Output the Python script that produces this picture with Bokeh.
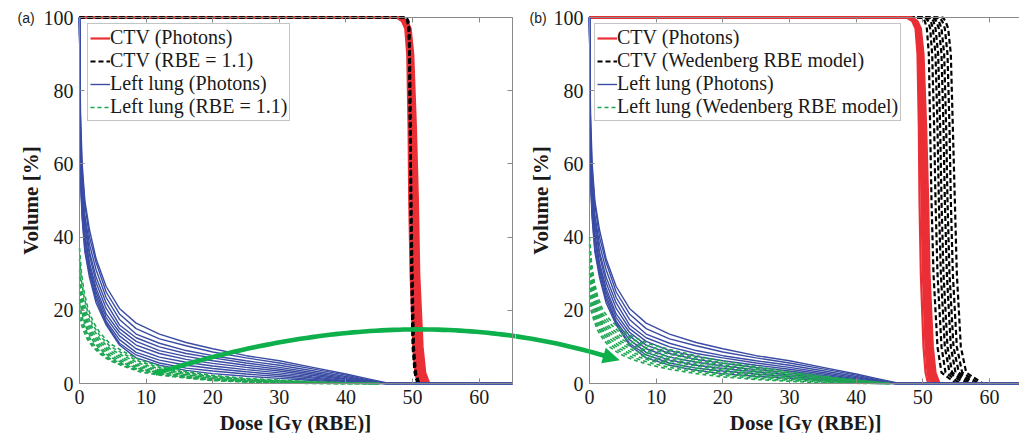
import numpy as np
from bokeh.plotting import figure
from bokeh.layouts import row
from bokeh.models import (LinearAxis, FixedTicker, Legend, LegendItem, Range1d)
from bokeh.core.properties import value
from bokeh.embed import file_html
from bokeh.resources import INLINE

# ---------------- data ----------------
# Left lung, photons: volume [%] at dose grid [Gy]
lung_dose_photon = [0, 0.15, 0.4, 0.8, 1.5, 2.5, 4, 6, 8.5, 12, 16, 20, 25, 30, 35, 40, 43, 46]
lung_photons = [
    [100, 74, 60, 50, 42, 34, 26.5, 20.5, 16.5, 13.5, 11.2, 9.5, 7.6, 6.2, 4.4, 2.6, 1.4, 0.2],
    [100, 70, 58, 49, 40, 33, 25, 19, 15, 12.2, 10.3, 8.6, 7.0, 5.6, 4.0, 2.3, 1.1, 0.1],
    [100, 68, 55, 46, 38, 31, 23.5, 17.5, 13.5, 11, 9.0, 7.6, 6.2, 5.0, 3.5, 1.9, 0.9, 0],
    [100, 66, 54, 45, 36, 29, 22, 16, 12.5, 10, 8.2, 7.0, 5.6, 4.4, 3.0, 1.6, 0.7, 0],
    [100, 64, 52, 43, 35, 27.5, 20.5, 15, 11.5, 9.0, 7.4, 6.2, 5.0, 3.9, 2.6, 1.3, 0.5, 0],
    [100, 62, 50, 41, 33, 26, 19, 14, 10.5, 8.2, 6.6, 5.5, 4.4, 3.4, 2.2, 1.1, 0.4, 0],
    [100, 60, 48, 40, 32, 25, 18, 13, 9.5, 7.2, 5.8, 4.8, 3.8, 2.9, 1.8, 0.8, 0.3, 0],
    [100, 58, 47, 39, 31, 24, 17, 12, 8.5, 6.4, 5.0, 4.1, 3.2, 2.4, 1.5, 0.6, 0.2, 0],
    [100, 57, 46, 37, 30, 23, 16.5, 11, 7.8, 5.6, 4.2, 3.4, 2.6, 1.9, 1.1, 0.5, 0.1, 0],
    [100, 55, 45, 36, 29, 22, 16, 10.5, 7.0, 5.0, 3.6, 2.7, 2.0, 1.4, 0.8, 0.3, 0, 0],
]
# Left lung, protons: volume [%] at dose grid [Gy (RBE)]
lung_dose_proton = [0, 0.3, 0.7, 1.2, 2, 3, 4.5, 6.5, 9, 12, 16, 20, 25, 30, 35, 40, 45]
lung_rbe11 = [
    [37, 30, 25, 21, 17, 14, 11, 8.8, 6.5, 4.8, 3.3, 2.2, 1.4, 0.9, 0.5, 0.2, 0],
    [34, 28, 23.5, 19.8, 16, 13.2, 10.3, 8.2, 6.0, 4.4, 3.0, 2.0, 1.2, 0.8, 0.4, 0.15, 0],
    [31, 26, 22, 18.5, 15, 12.3, 9.6, 7.6, 5.5, 4.0, 2.7, 1.8, 1.1, 0.7, 0.35, 0.1, 0],
    [29, 24.5, 20.5, 17.3, 14, 11.5, 9.0, 7.0, 5.0, 3.7, 2.5, 1.6, 1.0, 0.6, 0.3, 0.1, 0],
    [27, 23, 19.3, 16.2, 13.2, 10.8, 8.4, 6.5, 4.6, 3.4, 2.3, 1.4, 0.8, 0.5, 0.2, 0.05, 0],
    [25, 21.5, 18, 15.2, 12.4, 10.1, 7.8, 6.0, 4.3, 3.1, 2.1, 1.3, 0.7, 0.4, 0.15, 0, 0],
    [23, 20, 17, 14.3, 11.7, 9.5, 7.3, 5.6, 4.0, 2.9, 1.9, 1.1, 0.6, 0.3, 0.1, 0, 0],
    [22, 19, 16, 13.5, 11, 8.9, 6.9, 5.3, 3.7, 2.7, 1.7, 1.0, 0.5, 0.25, 0.1, 0, 0],
    [20, 17.5, 15, 12.7, 10.4, 8.5, 6.6, 5.0, 3.5, 2.5, 1.6, 0.9, 0.45, 0.2, 0.05, 0, 0],
    [18, 16, 14, 12, 10, 8.2, 6.3, 4.8, 3.2, 2.3, 1.5, 0.8, 0.4, 0.2, 0, 0, 0],
]
lung_wedenberg = [
    [40, 33, 28, 24, 20, 17.5, 15, 12.8, 10.8, 9.3, 7.6, 6.1, 4.6, 3.2, 2.0, 1.0, 0],
    [38, 31.5, 26.5, 22.8, 19, 16.5, 14, 12, 10.1, 8.6, 7.0, 5.6, 4.2, 2.9, 1.8, 0.9, 0],
    [36, 30, 25.3, 21.7, 18, 15.5, 13.2, 11.2, 9.4, 8.0, 6.4, 5.1, 3.8, 2.6, 1.6, 0.8, 0],
    [34, 28.5, 24, 20.6, 17.1, 14.7, 12.4, 10.5, 8.7, 7.3, 5.9, 4.6, 3.4, 2.3, 1.4, 0.7, 0],
    [32, 27, 23, 19.6, 16.2, 13.9, 11.7, 9.8, 8.1, 6.7, 5.3, 4.1, 3.0, 2.0, 1.2, 0.6, 0],
    [30, 25.5, 21.8, 18.6, 15.4, 13.1, 11, 9.1, 7.5, 6.1, 4.8, 3.6, 2.6, 1.7, 1.0, 0.4, 0],
    [28, 24, 20.6, 17.6, 14.6, 12.3, 10.2, 8.4, 6.9, 5.5, 4.2, 3.1, 2.2, 1.4, 0.8, 0.3, 0],
    [26, 22.5, 19.4, 16.6, 13.8, 11.5, 9.5, 7.8, 6.3, 5.0, 3.7, 2.6, 1.8, 1.1, 0.6, 0.2, 0],
    [24, 21, 18.2, 15.6, 13, 10.8, 8.8, 7.1, 5.7, 4.4, 3.2, 2.2, 1.4, 0.8, 0.4, 0.1, 0],
    [22, 19.5, 17, 14.6, 12.2, 10, 8.1, 6.5, 5.1, 3.9, 2.7, 1.8, 1.1, 0.6, 0.2, 0.05, 0],
]
# CTV: dose [Gy (RBE)] at which each volume level [%] is reached
ctv_volume = [100, 99, 97, 90, 70, 50, 30, 10, 3, 0]
ctv_photons = [
    [47.6, 48.4, 48.9, 49.2, 49.4, 49.5, 49.7, 50.1, 50.4, 50.8],
    [47.8, 48.6, 49.1, 49.4, 49.6, 49.8, 50.0, 50.4, 50.7, 51.1],
    [47.9, 48.7, 49.2, 49.5, 49.8, 50.0, 50.2, 50.6, 50.9, 51.4],
    [48.0, 48.8, 49.3, 49.7, 49.9, 50.1, 50.4, 50.8, 51.1, 51.6],
    [48.1, 48.9, 49.4, 49.8, 50.1, 50.3, 50.5, 50.9, 51.3, 51.8],
    [48.2, 49.0, 49.5, 49.9, 50.2, 50.4, 50.7, 51.1, 51.5, 52.0],
    [48.3, 49.1, 49.6, 50.0, 50.3, 50.6, 50.9, 51.3, 51.7, 52.3],
    [48.4, 49.2, 49.7, 50.1, 50.5, 50.8, 51.0, 51.5, 51.9, 52.5],
]
ctv_rbe11 = [
    [48.9, 49.2, 49.4, 49.5, 49.6, 49.7, 49.8, 50.0, 50.3, 50.7],
    [49.0, 49.3, 49.4, 49.5, 49.6, 49.7, 49.9, 50.1, 50.4, 50.8],
    [49.0, 49.3, 49.5, 49.6, 49.7, 49.8, 49.9, 50.1, 50.4, 50.9],
    [49.1, 49.4, 49.5, 49.6, 49.7, 49.8, 50.0, 50.2, 50.5, 51.0],
]
ctv_wedenberg = [
    [50.0, 50.3, 50.6, 50.9, 51.1, 51.3, 51.6, 52.2, 52.8, 55.0],
    [50.4, 50.8, 51.1, 51.4, 51.7, 51.9, 52.2, 52.8, 53.4, 55.6],
    [50.8, 51.2, 51.5, 51.9, 52.2, 52.4, 52.7, 53.3, 54.0, 56.2],
    [51.2, 51.6, 51.9, 52.3, 52.6, 52.8, 53.1, 53.7, 54.4, 56.8],
    [51.6, 52.0, 52.4, 52.8, 53.1, 53.3, 53.6, 54.2, 54.9, 57.3],
    [52.0, 52.4, 52.8, 53.2, 53.5, 53.7, 54.0, 54.6, 55.4, 57.8],
    [52.5, 52.9, 53.3, 53.7, 54.0, 54.2, 54.5, 55.1, 55.9, 58.4],
    [53.0, 53.4, 53.8, 54.2, 54.5, 54.8, 55.1, 55.7, 56.5, 59.0],
]
x_ticks = [0, 10, 20, 30, 40, 50, 60]
y_ticks = [0, 20, 40, 60, 80, 100]
x_title = "Dose [Gy (RBE)]"
y_title = "Volume [%]"
legend_a = ["CTV (Photons)", "CTV (RBE = 1.1)", "Left lung (Photons)", "Left lung (RBE = 1.1)"]
legend_b = ["CTV (Photons)", "CTV (Wedenberg RBE model)", "Left lung (Photons)",
            "Left lung (Wedenberg RBE model)"]

# ---------------- styling ----------------
RED = "#ea2f36"
BLACK = "#000000"
BLUE = "#3a4ca3"
GREEN = "#1fa653"
ARROW = "#0db04b"
FRAME = "#8a8a8a"
SERIF = "Liberation Serif"
TXT = "#1a1a1a"

H = 433
TOP, BOTTOM = 17, 383
SY = (BOTTOM - TOP) / 100.0          # px per % volume
SX1 = 433 / 65.0                     # px per Gy, panel a
SX2 = 430 / 64.5                     # px per Gy, panel b


def ctv_xy(curves):
    xs = [[0] + list(c) for c in curves]
    ys = [[ctv_volume[0]] + list(ctv_volume) for c in curves]
    return xs, ys


def lung_xy(dose, curves, extend=False):
    xs, ys = [], []
    for c in curves:
        x, y = list(dose), list(c)
        if extend:
            x, y = x + [65], y + [0]
        xs.append(x)
        ys.append(y)
    return xs, ys


def tick_kw():
    return dict(axis_line_color=FRAME, major_tick_line_color=FRAME, major_tick_in=5,
                major_tick_out=0, minor_tick_line_color=None)


def blank_axis(ticks, **kw):
    return LinearAxis(ticker=FixedTicker(ticks=ticks),
                      major_label_overrides={t: "" for t in ticks},
                      major_label_text_font_size="1px", major_label_standoff=0,
                      **tick_kw(), **kw)


def make_panel(width, x0, x1, xmax, sx):
    # the frame covers the whole canvas; the axes box is drawn by fixed-location axes
    p = figure(width=width, height=H, x_range=Range1d(x0, x1),
               y_range=Range1d(-(H - BOTTOM) / SY, BOTTOM / SY),
               output_backend="svg", toolbar_location=None,
               x_axis_location=None, y_axis_location=None,
               min_border_left=0, min_border_right=0, min_border_top=0,
               min_border_bottom=0)
    p.outline_line_color = None
    p.xgrid.visible = False
    p.ygrid.visible = False
    xa = LinearAxis(fixed_location=0, bounds=(0, xmax), ticker=FixedTicker(ticks=x_ticks),
                    major_label_text_font=SERIF, major_label_text_font_size="20px",
                    major_label_text_color=TXT, major_label_standoff=6, **tick_kw())
    p.add_layout(xa, "below")
    ya = LinearAxis(fixed_location=0, bounds=(0, 100), ticker=FixedTicker(ticks=y_ticks),
                    major_label_text_font=SERIF, major_label_text_font_size="20px",
                    major_label_text_color=TXT, major_label_standoff=6, **tick_kw())
    p.add_layout(ya, "left")
    p.add_layout(blank_axis(x_ticks, fixed_location=100, bounds=(0, xmax)), "above")
    # axis titles (text)
    p.text(x=[(295 - 79) / SX1], y=[(BOTTOM - 422) / SY], text=[x_title],
           text_font=value(SERIF), text_font_size="21px", text_font_style="bold",
           text_align="center", text_baseline="middle", text_color=TXT)
    p.text(x=[-49 / sx], y=[50], text=[y_title], angle=np.pi / 2,
           text_font=value(SERIF), text_font_size="21px", text_font_style="bold",
           text_align="center", text_baseline="middle", text_color=TXT)
    return p


def make_legend(p, items, labels, x_px):
    lg = Legend(items=[LegendItem(label=l, renderers=[r]) for l, r in zip(labels, items)],
                location=(x_px, H - 121), padding=2, spacing=-3, margin=0,
                label_height=22, glyph_height=22, glyph_width=20, label_standoff=0,
                label_text_font=SERIF, label_text_font_size="20px",
                label_text_color=TXT,
                border_line_color=FRAME, border_line_width=1,
                background_fill_color="white", background_fill_alpha=1)
    p.add_layout(lg)


# green arrow annotation: quadratic Bezier in canvas pixels
def arrow_polygon():
    P0 = np.array([155.0, 373.0])
    P1 = np.array([400.0, 295.0])
    P2 = np.array([603.0, 355.0])
    t = np.linspace(0, 1, 80)
    pts = ((1 - t) ** 2)[:, None] * P0 + (2 * t * (1 - t))[:, None] * P1 + (t ** 2)[:, None] * P2
    der = (2 * (1 - t))[:, None] * (P1 - P0) + (2 * t)[:, None] * (P2 - P1)
    der = der / np.linalg.norm(der, axis=1)[:, None]
    nrm = np.stack([-der[:, 1], der[:, 0]], axis=1)
    hw = 2.3
    left = pts + hw * nrm
    right = pts - hw * nrm
    d, n = der[-1], nrm[-1]
    tip = P2 + 17 * d
    w1 = P2 + 8 * n
    w2 = P2 - 8 * n
    return np.vstack([left, w1[None], tip[None], w2[None], right[::-1]])


poly = arrow_polygon()

# ---------------- panel (a) ----------------
# canvas 0..515 px; data x = 0 at px 79
p1 = make_panel(515, -79 / SX1, (515 - 79) / SX1, 65, SX1)
p1.add_layout(blank_axis(y_ticks, fixed_location=65, bounds=(0, 100)), "right")

xs, ys = ctv_xy(ctv_photons)
r_red_a = p1.multi_line(xs, ys, line_color=RED, line_width=2.2)
xs, ys = ctv_xy(ctv_rbe11)
r_blk_a = p1.multi_line(xs, ys, line_color=BLACK, line_width=2.2, line_dash="5 3")
xs, ys = lung_xy(lung_dose_photon, lung_photons, extend=True)
r_blu_a = p1.multi_line(xs, ys, line_color=BLUE, line_width=1.4)
xs, ys = lung_xy(lung_dose_proton, lung_rbe11)
r_grn_a = p1.multi_line(xs, ys, line_color=GREEN, line_width=1.6, line_dash="4 3")
make_legend(p1, [r_red_a, r_blk_a, r_blu_a, r_grn_a], legend_a, 87)

p1.patch(list((poly[:, 0] - 79) / SX1), list((BOTTOM - poly[:, 1]) / SY),
         fill_color=ARROW, line_color=None)
p1.text(x=[(17 - 79) / SX1], y=[100], text=["(a)"], text_font=value("Liberation Sans"),
        text_font_size="14px", text_baseline="middle", text_color=TXT)

# ---------------- panel (b) ----------------
# canvas 515..1019 px; data x = 0 at px 589
p2 = make_panel(504, -(589 - 515) / SX2, 64.5, 64.5, SX2)

xs, ys = ctv_xy(ctv_wedenberg)
r_blk_b = p2.multi_line(xs, ys, line_color=BLACK, line_width=2.2, line_dash="5 3")
xs, ys = ctv_xy(ctv_photons)
r_red_b = p2.multi_line(xs, ys, line_color=RED, line_width=2.2)
xs, ys = lung_xy(lung_dose_photon, lung_photons, extend=True)
r_blu_b = p2.multi_line(xs, ys, line_color=BLUE, line_width=1.4)
xs, ys = lung_xy(lung_dose_proton, lung_wedenberg)
r_grn_b = p2.multi_line(xs, ys, line_color=GREEN, line_width=1.6, line_dash="4 3")
make_legend(p2, [r_red_b, r_blk_b, r_blu_b, r_grn_b], legend_b, 594 - 515)

p2.patch(list((poly[:, 0] - 589) / SX2), list((BOTTOM - poly[:, 1]) / SY),
         fill_color=ARROW, line_color=None)
p2.text(x=[(529 - 589) / SX2], y=[100], text=["(b)"], text_font=value("Liberation Sans"),
        text_font_size="14px", text_baseline="middle", text_color=TXT)

layout = row(p1, p2, spacing=0)
open("out.html", "w").write(file_html(layout, INLINE))
